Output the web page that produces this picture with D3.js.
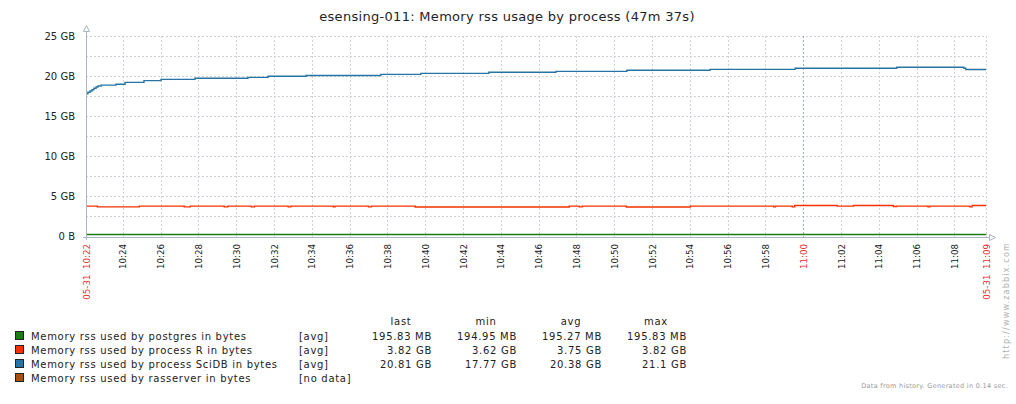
<!DOCTYPE html>
<html>
<head>
<meta charset="utf-8">
<script src="https://cdn.jsdelivr.net/npm/d3@7/dist/d3.min.js"></script>
<style>
  body { margin: 0; background: #fff; }
  svg { display: block; font-family: "DejaVu Sans", sans-serif; }
</style>
</head>
<body>
<script>
// data (values in GB)
var day = '2016-05-31 ';
var startTime = '10:22:03';
var endTime = '11:09:40';

var sciTimes = ['10:22:03', '10:22:09', '10:22:16', '10:22:22', '10:22:28', '10:22:35', '10:22:41', '10:22:51',
    '10:23:38', '10:24:07', '10:25:07', '10:26:01', '10:27:49', '10:30:37', '10:31:41', '10:33:41',
    '10:37:39', '10:39:46', '10:43:22', '10:46:55', '10:50:40', '10:55:04', '10:59:34', '11:04:57',
    '11:08:30', '11:08:36', '11:09:40'];
var sciVals = [17.77, 17.96, 18.12, 18.29, 18.46, 18.62, 18.75, 18.86,
    18.96, 19.2, 19.42, 19.58, 19.71, 19.83, 19.96, 20.06,
    20.2, 20.33, 20.46, 20.58, 20.71, 20.83, 20.96, 21.1,
    20.96, 20.81, 20.81];

var rTimes = ['10:22:03', '10:22:39', '10:24:52', '10:27:15', '10:27:34', '10:29:22', '10:29:33', '10:30:48',
    '10:30:57', '10:32:45', '10:32:53', '10:35:08', '10:35:14', '10:37:00', '10:37:09', '10:39:28',
    '10:47:37', '10:48:09', '10:48:18', '10:50:38', '10:54:01', '10:58:26', '10:58:32', '10:59:25',
    '10:59:33', '11:01:48', '11:02:39', '11:04:46', '11:04:56', '11:06:36', '11:06:42', '11:08:49',
    '11:08:56', '11:09:40'];
var rVals = [3.73, 3.64, 3.73, 3.64, 3.73, 3.64, 3.73, 3.64,
    3.73, 3.64, 3.73, 3.64, 3.73, 3.64, 3.73, 3.62,
    3.73, 3.64, 3.73, 3.63, 3.73, 3.64, 3.73, 3.64,
    3.82, 3.73, 3.82, 3.68, 3.73, 3.64, 3.73, 3.64,
    3.82, 3.82];

var pgTimes = ['10:22:03', '10:35:00', '10:50:00', '11:09:40'];
var pgVals = [0.1904, 0.1907, 0.1909, 0.1912];

var yTicks = [0, 5, 10, 15, 20, 25];
var yGrid = [2.5, 5, 7.5, 10, 12.5, 15, 17.5, 20, 22.5, 25];
var xTickLabels = ['10:24', '10:26', '10:28', '10:30', '10:32', '10:34', '10:36', '10:38', '10:40', '10:42',
    '10:44', '10:46', '10:48', '10:50', '10:52', '10:54', '10:56', '10:58', '11:00', '11:02',
    '11:04', '11:06', '11:08'];
var redLabels = ['11:00'];

var legendNames = ['Memory rss used by postgres in bytes', 'Memory rss used by process R in bytes',
    'Memory rss used by process SciDB in bytes', 'Memory rss used by rasserver in bytes'];
var legendColors = ['#1A7C11', '#F63100', '#2774A4', '#A54F10'];
var legendFunc = ['[avg]', '[avg]', '[avg]', '[no data]'];
var legendHeads = ['last', 'min', 'avg', 'max'];
var lastVals = ['195.83 MB', '3.82 GB', '20.81 GB', ''];
var minVals = ['194.95 MB', '3.62 GB', '17.77 GB', ''];
var avgVals = ['195.27 MB', '3.75 GB', '20.38 GB', ''];
var maxVals = ['195.83 MB', '3.82 GB', '21.1 GB', ''];

// canvas

var parseT = d3.timeParse('%Y-%m-%d %H:%M:%S');
function T(s) {
    if (s.length == 5) s = s + ':00';
    return parseT(day + s);
}
var fmt = d3.timeFormat('%H:%M');

var axisColor = '#aab6c2';
var gridColor = '#ccd2d7';

var svg = d3.select('body')
    .append('svg')
    .attr('width', 1016)
    .attr('height', 404)

svg.append('rect')
    .attr('width', 1016)
    .attr('height', 404)
    .attr('fill', '#fff')

var x = d3.scaleTime()
    .domain([T(startTime), T(endTime)])
    .range([86, 986])

var y = d3.scaleLinear()
    .domain([0, 25])
    .range([236, 36])

// title
svg.append('text')
    .text('esensing-011: Memory rss usage by process (47m 37s)')
    .attr('x', 507)
    .attr('y', 21)
    .attr('text-anchor', 'middle')
    .attr('font-size', 13)
    .attr('letter-spacing', 0.3)
    .attr('fill', '#1f2429')

// grid
var grid = svg.append('g')
    .attr('fill', 'none')
    .attr('stroke-width', 1)
    .attr('stroke-dasharray', '2,2')

grid.selectAll('.hgrid')
    .data(yGrid)
    .enter()
    .append('line')
    .attr('x1', 86)
    .attr('x2', 986)
    .attr('y1', function (d) { return Math.round(y(d)) + 0.5; })
    .attr('y2', function (d) { return Math.round(y(d)) + 0.5; })
    .attr('stroke', gridColor)

var vgrid = xTickLabels.concat([endTime]);
grid.selectAll('.vgrid')
    .data(vgrid)
    .enter()
    .append('line')
    .attr('x1', function (d) { return Math.round(x(T(d))) + 0.5; })
    .attr('x2', function (d) { return Math.round(x(T(d))) + 0.5; })
    .attr('y1', 36)
    .attr('y2', 237)
    .attr('stroke', function (d) { return redLabels.indexOf(d) >= 0 ? '#9fafbc' : gridColor; })

// lines
var line = d3.line()
    .x(function (d) { return x(d.t); })
    .y(function (d) { return y(d.v); })
    .curve(d3.curveStepAfter)

function pts(times, vals) {
    return times.map(function (t, i) { return { t: T(t), v: vals[i] }; });
}

var series = [
    { data: pts(pgTimes, pgVals), color: legendColors[0] },
    { data: pts(rTimes, rVals), color: legendColors[1] },
    { data: pts(sciTimes, sciVals), color: legendColors[2] }
];

svg.selectAll('.series')
    .data(series)
    .enter()
    .append('path')
    .attr('d', function (d) { return line(d.data); })
    .attr('fill', 'none')
    .attr('stroke', function (d) { return d.color; })
    .attr('stroke-width', 1.4)

// axis lines + arrows
svg.append('line')
    .attr('x1', 86.5).attr('x2', 86.5)
    .attr('y1', 31).attr('y2', 240)
    .attr('stroke', axisColor)
svg.append('line')
    .attr('x1', 83).attr('x2', 989)
    .attr('y1', 237.5).attr('y2', 237.5)
    .attr('stroke', axisColor)
svg.append('path')
    .attr('d', 'M86.5,25.5 L83.5,31.5 L89.5,31.5 Z')
    .attr('fill', '#fff')
    .attr('stroke', axisColor)
svg.append('path')
    .attr('d', 'M995.5,237.5 L989.5,234.5 L989.5,240.5 Z')
    .attr('fill', '#fff')
    .attr('stroke', axisColor)

// y axis labels
var axisL = d3.axisLeft(y)
    .tickValues(yTicks)
    .tickSize(0)
    .tickPadding(11)
    .tickFormat(function (d) { return d == 0 ? '0 B' : d + ' GB'; })

var gy = svg.append('g')
    .attr('transform', 'translate(86,0)')
    .call(axisL)
gy.select('.domain').remove();
gy.selectAll('text')
    .attr('font-family', 'DejaVu Sans')
    .attr('font-size', 10)
    .attr('fill', '#222')

// x axis labels
var xTicks = [startTime].concat(xTickLabels).concat([endTime]);
var axisB = d3.axisBottom(x)
    .tickValues(xTicks.map(T))
    .tickSize(0)
    .tickFormat(function (d, i) {
        if (i == 0 || i == xTicks.length - 1) return '05-31  ' + fmt(d);
        return fmt(d);
    })

var gx = svg.append('g')
    .attr('transform', 'translate(0,237)')
    .call(axisB)
gx.select('.domain').remove();
gx.selectAll('text')
    .attr('transform', 'rotate(-90)')
    .attr('x', -7)
    .attr('y', 0)
    .attr('dy', '0.35em')
    .style('text-anchor', 'end')
    .style('white-space', 'pre')
    .attr('font-family', 'DejaVu Sans')
    .attr('font-size', 8.7)
    .attr('fill', function (d, i) {
        if (i == 0 || i == xTicks.length - 1) return '#e8302f';
        if (redLabels.indexOf(fmt(d)) >= 0) return '#e8302f';
        return '#222';
    })

// legend
var legend = svg.append('g')
    .attr('font-size', 10)
    .attr('letter-spacing', 0.7)
    .attr('fill', '#222')

var colX = [432, 517, 602, 687];
legend.selectAll('.head')
    .data(legendHeads)
    .enter()
    .append('text')
    .text(function (d) { return d; })
    .attr('x', function (d, i) { return colX[i] - 31; })
    .attr('y', 325)
    .attr('text-anchor', 'middle')

var rows = legend.selectAll('.row')
    .data(legendNames)
    .enter()
    .append('g')
    .attr('transform', function (d, i) { return 'translate(0,' + (336 + i * 14) + ')'; })

rows.append('rect')
    .attr('x', 15.5)
    .attr('y', -4.5)
    .attr('width', 8)
    .attr('height', 8)
    .attr('fill', function (d, i) { return legendColors[i]; })
    .attr('stroke', '#222')

rows.append('text')
    .text(function (d) { return d; })
    .attr('x', 31)
    .attr('y', 3.5)

rows.append('text')
    .text(function (d, i) { return legendFunc[i]; })
    .attr('x', 299)
    .attr('y', 3.5)

var cols = [lastVals, minVals, avgVals, maxVals];
cols.forEach(function (vals, c) {
    rows.append('text')
        .text(function (d, i) { return vals[i]; })
        .attr('x', colX[c])
        .attr('y', 3.5)
        .attr('text-anchor', 'end')
});

// footer texts
svg.append('text')
    .text('Data from history. Generated in 0.14 sec.')
    .attr('x', 1008)
    .attr('y', 388)
    .attr('text-anchor', 'end')
    .attr('font-size', 6.5)
    .attr('letter-spacing', 0.3)
    .attr('fill', '#9a9a9a')

svg.append('text')
    .text('http://www.zabbix.com')
    .attr('transform', 'translate(1009,242) rotate(-90)')
    .attr('text-anchor', 'end')
    .attr('font-size', 8)
    .attr('letter-spacing', 1.2)
    .attr('fill', '#b0b0b0')
</script>
</body>
</html>
